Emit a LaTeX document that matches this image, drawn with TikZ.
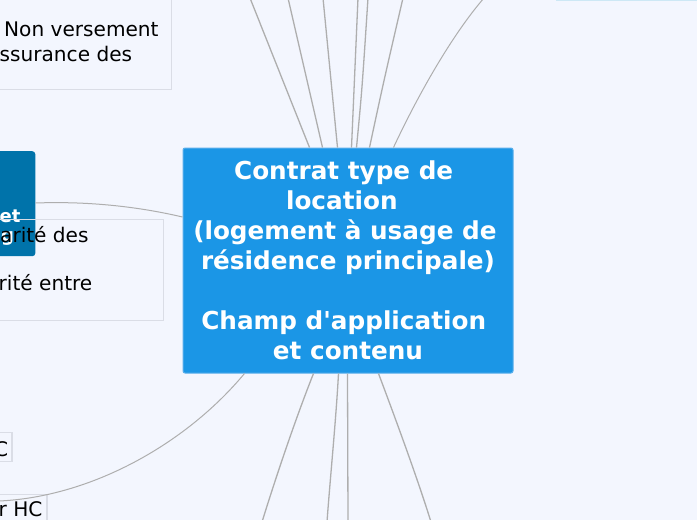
\documentclass[tikz,border=0pt]{standalone}
\usepackage{fontspec}
\setmainfont{DejaVu Sans}
\definecolor{bgc}{RGB}{243,246,254}
\definecolor{mainblue}{RGB}{27,150,230}
\definecolor{mainedge}{RGB}{90,175,235}
\definecolor{darkblue}{RGB}{0,115,170}
\definecolor{linegray}{RGB}{174,174,174}
\definecolor{boxedge}{RGB}{218,221,230}
\definecolor{cyanedge}{RGB}{205,232,245}
\newcommand{\trailsp}[1]{\hspace{#1}\mbox{}}
\begin{document}
\begin{tikzpicture}[x=1pt,y=-1pt,
  mainbox/.style={draw=mainedge, line width=1pt, fill=mainblue, rounded corners=2pt,
    minimum width=330pt, minimum height=225pt, inner sep=0pt, text=white, align=center,
    font=\fontsize{24.7}{30}\selectfont\bfseries},
  lightbox/.style={draw=boxedge, line width=1.2pt, inner sep=0pt},
  darkbox/.style={fill=darkblue, rounded corners=3pt, inner sep=0pt},
  txt/.style={anchor=base west, inner sep=0pt, text=black, font=\fontsize{20.1}{24}\selectfont},
  wtxt/.style={anchor=base west, inner sep=0pt, text=white, font=\fontsize{18}{20}\selectfont\bfseries},
  conn/.style={draw=linegray, line width=1.3pt},
  thinconn/.style={draw=linegray, line width=1pt}]
\useasboundingbox (0,0) rectangle (697,520);
\fill[bgc] (0,0) rectangle (697,520);
\clip (0,0) rectangle (697,520);

% boxes
\node[darkbox, anchor=north east, minimum width=70pt, minimum height=105pt] (dark) at (35.5,151) {};
\node[wtxt] (darkt1) at (-0.5,222) {et};
\node[wtxt] (darkt2) at (1,241) {g};

\node[lightbox, anchor=south east, minimum width=220pt, minimum height=130pt] (topbox) at (172,90) {};
\node[txt] (tb1) at (4,36) {Non versement};
\node[txt] (tb2) at (-0.5,61) {ssurance des};

\node[lightbox, anchor=north east, minimum width=200pt, minimum height=101pt] (midbox) at (164,219) {};
\node[txt] (mb1) at (0,242) {arité des};
\node[txt] (mb2) at (-1.5,290) {rité entre};

\node[lightbox, anchor=north east, minimum width=40pt, minimum height=29pt] (cbox) at (12.5,432) {};
\node[txt] (ct) at (-6,456) {C};

\node[lightbox, anchor=north east, minimum width=80pt, minimum height=40pt] (hcbox) at (47.5,494) {};
\node[txt] (hct) at (-1.5,516.5) {r HC};

\node[draw=cyanedge, line width=1.5pt, anchor=south west, minimum width=160pt, minimum height=40pt, inner sep=0pt] (trbox) at (556,1) {};

% main node
\node[mainbox] (main) at (348,260.5) {Contrat type de\trailsp{0.35em}\\ location\trailsp{0.5em}\\ (logement à usage de\trailsp{0.25em}\\ résidence principale)\\[30pt] Champ d\textquotesingle application\trailsp{0.35em}\\ et contenu};

% free ends
\coordinate (t1) at (250,-2);
\coordinate (t2) at (288,-2);
\coordinate (t3) at (323,-2);
\coordinate (t4) at (358,-2);
\coordinate (t5) at (368,-2);
\coordinate (t6) at (403,-2);
\coordinate (t7) at (484,-2);
\coordinate (b1) at (262,522);
\coordinate (b2) at (327,522);
\coordinate (b3) at (348,522);
\coordinate (b4) at (431,522);
\coordinate (hcend) at (-1,501);

% connectors top
\draw[conn] ([xshift=127pt]main.north west) -- (t1);
\draw[conn] ([xshift=140pt]main.north west) -- (t2);
\draw[conn] ([xshift=155pt]main.north west) -- (t3);
\draw[conn] ([xshift=169pt]main.north west) .. controls (354,90) .. (t4);
\draw[conn] ([xshift=174pt]main.north west) .. controls (362,90) .. (t5);
\draw[conn] ([xshift=187pt]main.north west) .. controls (384,80) .. (t6);
\draw[thinconn] ([xshift=211pt]main.north west) .. controls (418,95) and (452,35) .. (t7);
% connectors bottom
\draw[conn] ([xshift=131pt]main.south west) .. controls (295,420) and (275,480) .. (b1);
\draw[conn] ([xshift=156pt]main.south west) .. controls (336,420) and (330,480) .. (b2);
\draw[conn] ([xshift=165pt]main.south west) -- (b3);
\draw[conn] ([xshift=196pt]main.south west) .. controls (396,420) and (418,480) .. (b4);
\draw[thinconn] ([xshift=62pt]main.south west) .. controls (185,445) and (90,497) .. (hcend);
% connector to dark box
\draw[thinconn] (dark.east |- 0,203) .. controls (90,201) and (140,207) .. (main.west |- 0,217);
\end{tikzpicture}
\end{document}
